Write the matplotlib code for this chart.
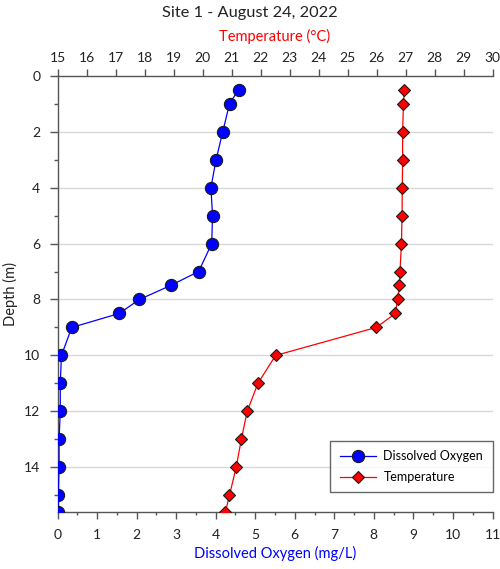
import matplotlib
matplotlib.use("Agg")
import matplotlib.pyplot as plt
from matplotlib.ticker import MultipleLocator

plt.rcParams['font.family'] = ['Lato', 'DejaVu Sans']

# Profile data
depth_m = [0.5, 1, 2, 3, 4, 5, 6, 7, 7.5, 8, 8.5, 9, 10, 11, 12, 13, 14, 15, 15.6]
dissolved_oxygen = [4.58, 4.35, 4.18, 4.01, 3.88, 3.92, 3.90, 3.57, 2.86, 2.07, 1.56,
                    0.36, 0.10, 0.07, 0.07, 0.04, 0.04, 0.02, 0.02]
temperature_c = [26.96, 26.93, 26.90, 26.90, 26.89, 26.88, 26.86, 26.81, 26.79, 26.73, 26.65,
                 25.99, 22.52, 21.91, 21.54, 21.34, 21.16, 20.93, 20.79]

fig = plt.figure(figsize=(5.0, 5.69), dpi=100)
ax = fig.add_axes([0.115, 0.1, 0.87, 0.767])
ax2 = ax.twiny()

ax.set_xlim(0, 11)
ax.set_ylim(15.6, 0)
ax2.set_xlim(15, 30)

grid_c = '#d9d9d9'
for d in range(2, 15, 2):
    ax.axhline(d, color=grid_c, lw=1.0, zorder=0)

l1, = ax.plot(dissolved_oxygen, depth_m, color='#0000ff', lw=0.9, marker='o', ms=8.8,
              mfc='#0000ff', mec='#1a1a1a', mew=0.8, label='Dissolved Oxygen', zorder=3)
l2, = ax2.plot(temperature_c, depth_m, color='#ff0000', lw=0.9, marker='D', ms=6.5,
               mfc='#ff0000', mec='#1a1a1a', mew=0.8, label='Temperature', zorder=3)

axis_c = '#555555'
for a in (ax, ax2):
    for s in a.spines.values():
        s.set_visible(False)
ax.spines['left'].set_visible(True)
ax.spines['bottom'].set_visible(True)
ax2.spines['top'].set_visible(True)
for s in (ax.spines['left'], ax.spines['bottom'], ax2.spines['top']):
    s.set_color(axis_c)
    s.set_linewidth(1.0)

ax.xaxis.set_major_locator(MultipleLocator(1))
ax.xaxis.set_minor_locator(MultipleLocator(0.5))
ax.yaxis.set_major_locator(MultipleLocator(2))
ax.yaxis.set_minor_locator(MultipleLocator(1))
ax2.xaxis.set_major_locator(MultipleLocator(1))
ax2.xaxis.set_minor_locator(MultipleLocator(1))

lab_c = '#222222'
ax.tick_params(axis='x', which='major', direction='out', length=4.8, width=1, color=axis_c,
               labelsize=10, pad=7.5, labelcolor=lab_c)
ax.tick_params(axis='x', which='minor', direction='out', length=2.4, width=1, color=axis_c)
ax.tick_params(axis='y', which='major', direction='out', length=5.8, width=1, color=axis_c,
               labelsize=10, pad=6.5, labelcolor=lab_c)
ax.tick_params(axis='y', which='minor', direction='out', length=3, width=1, color=axis_c)
ax2.tick_params(axis='x', which='major', direction='out', length=5, width=1, color=axis_c,
                labelsize=10, pad=3.5, labelcolor=lab_c)
ax2.tick_params(axis='x', which='minor', length=0)

ax.set_xlabel('Dissolved Oxygen (mg/L)', color='#0000ff', fontsize=10.5)
ax.xaxis.set_label_coords(0.5, -0.077)
ax2.set_xlabel('Temperature (°C)', color='#ff0000', fontsize=10.5)
ax2.xaxis.set_label_coords(0.5, 1.08)
ax.set_ylabel('Depth (m)', fontsize=10.5, color=lab_c)
ax.yaxis.set_label_coords(-0.091, 0.5)

fig.text(0.5, 1 - 12.5 / 569, 'Site 1 - August 24, 2022', fontsize=11.8, color=lab_c,
         ha='center', va='center')

leg = ax.legend(handles=[l1, l2], loc='lower right', bbox_to_anchor=(1.0, 0.045),
                fontsize=9, frameon=True, fancybox=False, borderpad=0.75,
                handlelength=2.9, handletextpad=0.6, labelspacing=0.7, borderaxespad=0)
leg.get_frame().set_edgecolor('#404040')
leg.get_frame().set_linewidth(1.0)
leg.set_zorder(5)

fig.savefig('out.png', dpi=100)
